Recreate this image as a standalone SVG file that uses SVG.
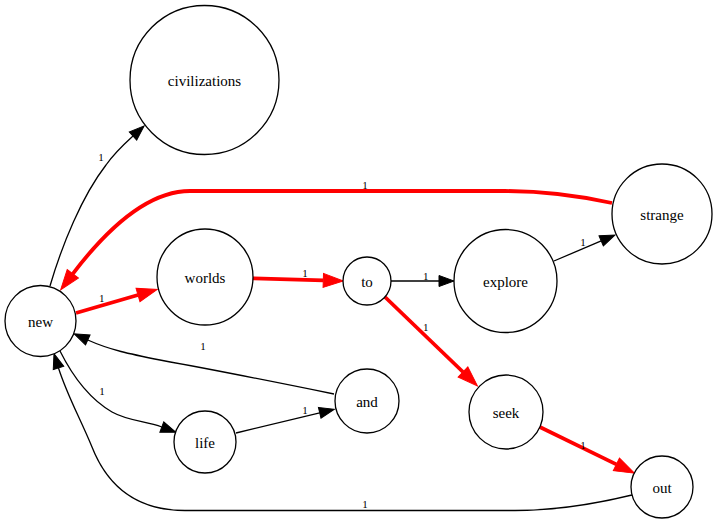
<svg xmlns="http://www.w3.org/2000/svg" width="717" height="524" viewBox="0 0 717 524">
<style>
.node circle{fill:#fff;stroke:#000;stroke-width:1.3}
text{font-family:"Liberation Serif","DejaVu Serif",serif}
.node text{font-size:15px;text-anchor:middle;fill:#000}
.e{fill:none;stroke:#000;stroke-width:1.3;marker-end:url(#ab)}
.r{fill:none;stroke:#f00;stroke-width:3.8;marker-end:url(#ar)}
.lbl{font-size:11px;text-anchor:middle;fill:#000}
</style>
<defs>
<marker id="ab" markerUnits="userSpaceOnUse" markerWidth="16" markerHeight="12" refX="0" refY="5.5" orient="auto" overflow="visible">
<path d="M0,0 L15,5.5 L0,11 z" fill="#000" stroke="#000" stroke-width="1"/>
</marker>
<marker id="ar" markerUnits="userSpaceOnUse" markerWidth="21" markerHeight="15" refX="0" refY="7" orient="auto" overflow="visible">
<path d="M0,0 L20,7 L0,14 z" fill="#f00" stroke="#f00" stroke-width="1"/>
</marker>
</defs>
<rect width="717" height="524" fill="#fff"/>
<g id="connectors">
<path class="e" d="M50,286 C62,245 82,196 106,165 C113,155 122,146 133,136"/>
<path class="r" d="M76,313 L138,295"/>
<path class="r" d="M612,203 C580,196 540,191 505,191 L190,191 C150,191 110,225 72.8,273.8"/>
<path class="r" d="M253,278.3 L323.3,280.4"/>
<path class="e" d="M391,281 L439,281"/>
<path class="e" d="M554,261 L601.2,240.9"/>
<path class="r" d="M385,297 L463,372"/>
<path class="r" d="M539.3,426.7 L616.4,464.4"/>
<path class="e" d="M334,394 C280,383 215,370 160,360 C130,354 110,350 87.8,340"/>
<path class="e" d="M60,351 C72,375 88,398 112,412 C128,421 146,421 161.8,427"/>
<path class="e" d="M236,433 L319.7,412.8"/>
<path class="e" d="M632,495 C595,504 555,510.5 515,510.5 L185,510.5 C130,510.5 105,480 92,447 C80,418 67,395 58.5,368"/>
<text class="lbl" x="101" y="161">1</text>
<text class="lbl" x="101.7" y="302">1</text>
<text class="lbl" x="365" y="189">1</text>
<text class="lbl" x="305" y="277">1</text>
<text class="lbl" x="425.7" y="280">1</text>
<text class="lbl" x="583" y="245.7">1</text>
<text class="lbl" x="425.7" y="330.7">1</text>
<text class="lbl" x="583" y="449">1</text>
<text class="lbl" x="203" y="350">1</text>
<text class="lbl" x="102" y="395">1</text>
<text class="lbl" x="305" y="414">1</text>
<text class="lbl" x="365" y="508">1</text>
</g>
<g id="new" class="node"><circle cx="40.5" cy="321" r="35.5"/><text x="40.5" y="326.5">new</text></g>
<g id="civilizations" class="node"><circle cx="204.5" cy="80" r="74.5"/><text x="204.5" y="85.5">civilizations</text></g>
<g id="worlds" class="node"><circle cx="205" cy="277" r="48"/><text x="205" y="282.5">worlds</text></g>
<g id="to" class="node"><circle cx="367" cy="281" r="24"/><text x="367" y="286.5">to</text></g>
<g id="explore" class="node"><circle cx="505.5" cy="281" r="51.5"/><text x="505.5" y="286.5">explore</text></g>
<g id="strange" class="node"><circle cx="662" cy="214" r="50"/><text x="662" y="219.5">strange</text></g>
<g id="and" class="node"><circle cx="367" cy="401" r="32"/><text x="367" y="406.5">and</text></g>
<g id="life" class="node"><circle cx="205" cy="442" r="31"/><text x="205" y="447.5">life</text></g>
<g id="seek" class="node"><circle cx="506" cy="412" r="37"/><text x="506" y="417.5">seek</text></g>
<g id="out" class="node"><circle cx="662" cy="487" r="31"/><text x="662" y="492.5">out</text></g>
</svg>
